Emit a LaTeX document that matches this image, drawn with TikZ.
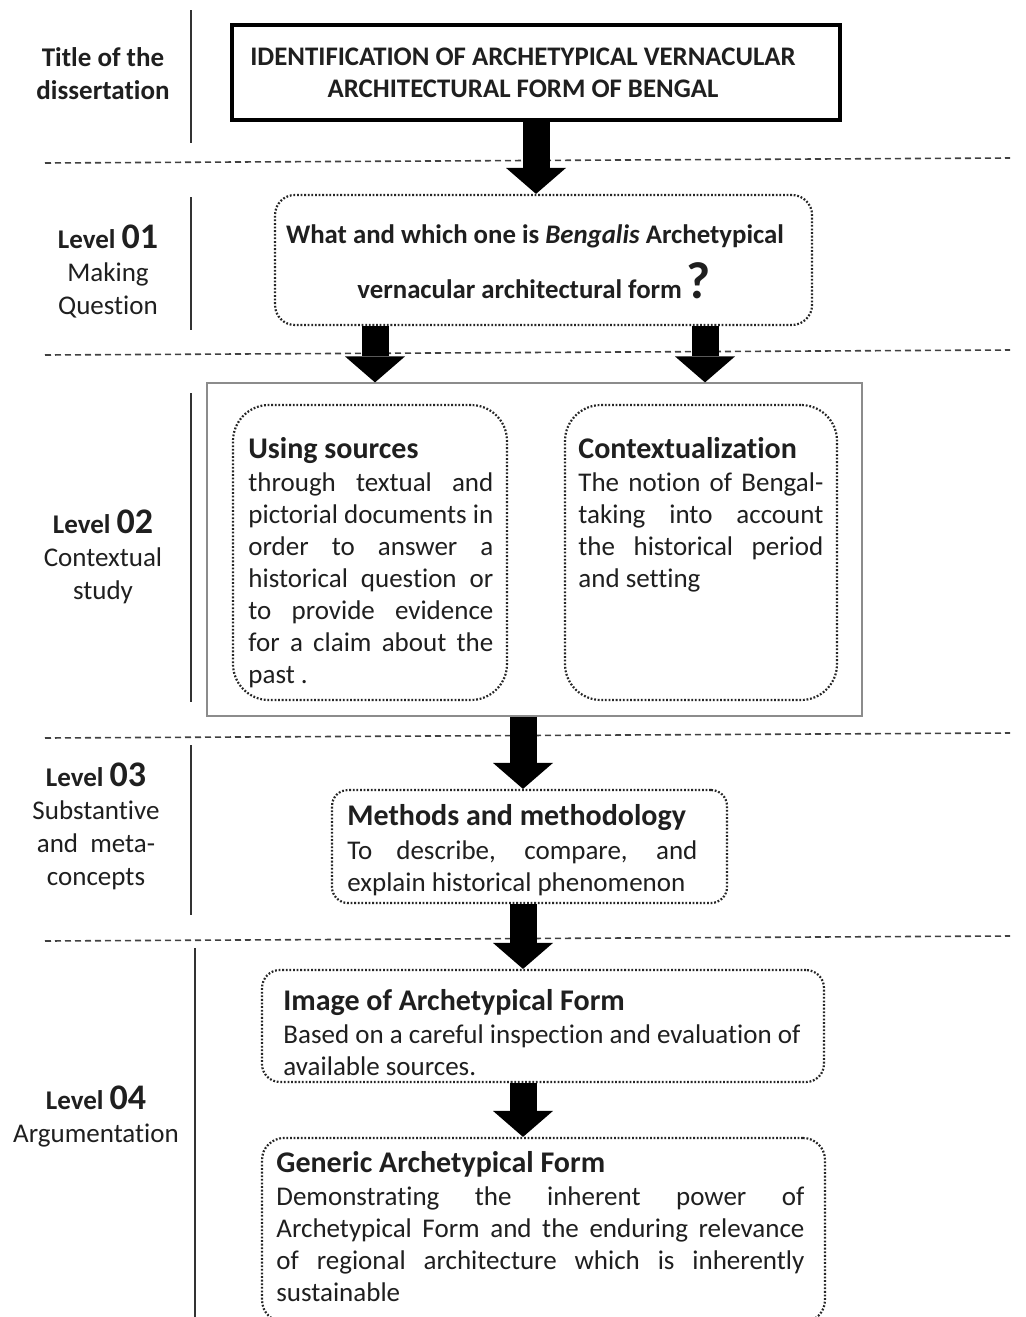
\documentclass[tikz,border=0pt]{standalone}
\usepackage{fontspec}
\setmainfont{Carlito}[Ligatures=NoCommon]
\usetikzlibrary{arrows.meta}
\newcommand\JL[2]{\makebox[#1][s]{#2}}
\newcommand\hd[1]{{\fontsize{15}{16}\selectfont\bfseries #1}}
\newcommand\lv[1]{\textbf{Level} {\fontsize{18}{16}\selectfont\bfseries #1}}
\begin{document}
\begin{tikzpicture}[x=0.5pt,y=-0.5pt,
  every node/.style={text=black!88},
  lbl/.style={align=center, anchor=base, inner sep=0pt, font=\fontsize{13.5}{16.5}\selectfont},
  txt/.style={align=left, anchor=base west, inner sep=0pt, font=\fontsize{13.5}{16}\selectfont},
  dotbox/.style={draw=black!85, line width=1.1pt, dash pattern=on 0.9pt off 0.9pt, inner sep=0pt},
  sepline/.style={draw=black!75, line width=0.8pt, dash pattern=on 3pt off 2pt},
  vline/.style={draw=black!80, line width=0.8pt},
  bigarrow/.style={draw=black, line width=13.5pt, -{Triangle[length=13pt,width=30pt,line width=0pt]}}
]
\fill[white] (0,0) rectangle (1025,1317);
\useasboundingbox (0,0) rectangle (1025,1317);

% separators
\draw[sepline] (45,163) -- (1010,158);
\draw[sepline] (45,355) -- (1010,350);
\draw[sepline] (45,738) -- (1010,733);
\draw[sepline] (45,941) -- (1010,936);
\draw[vline] (191,10) -- (191,143);
\draw[vline] (191,197) -- (191,330);
\draw[vline] (191,393) -- (191,702);
\draw[vline] (191,745) -- (191,915);
\draw[vline] (195,948) -- (195,1317);

% left labels (base = last line baseline)
\node[lbl] (l0) at (103,99) {\textbf{Title of the}\\\textbf{dissertation}};
\node[lbl] (l1) at (108,314) {\lv{01}\\Making\\Question};
\node[lbl] (l2) at (103,599) {\lv{02}\\Contextual\\study};
\node[lbl] (l3) at (96,885) {\lv{03}\\Substantive\\and\ \ meta-\\concepts};
\node[lbl] (l4) at (96,1142) {\lv{04}\\Argumentation};

% title
\node[draw=black, line width=1.6pt, minimum width=304pt, minimum height=47.5pt, inner sep=0pt] (title) at (536,72.5) {};
\node[inner sep=0pt, align=center, font=\bfseries\fontsize{13.4}{16}\selectfont] (titletxt) at (523,73)
  {IDENTIFICATION OF ARCHETYPICAL VERNACULAR\\ARCHITECTURAL FORM OF BENGAL};

% question
\node[dotbox, rounded corners=10pt, minimum width=268.5pt, minimum height=65pt] (q) at (543.5,260) {};
\node[anchor=base, inner sep=0pt, font=\bfseries\fontsize{13.4}{16}\selectfont] (q1) at (535,243)
  {What and which one is \textit{Bengalis} Archetypical};
\node[anchor=base, inner sep=0pt, font=\bfseries\fontsize{13.4}{16}\selectfont] (q2) at (534,298)
  {vernacular architectural form\,{\fontsize{26}{26}\selectfont ?}};

% level 02
\node[draw=black!45, line width=0.6pt, minimum width=327.5pt, minimum height=166.5pt, inner sep=0pt] (outer) at (534.5,549.5) {};
\node[dotbox, rounded corners=18pt, minimum width=137pt, minimum height=147.5pt] (src) at (370,552.5) {};
\node[dotbox, rounded corners=18pt, minimum width=136pt, minimum height=147.5pt] (ctx) at (701,552.5) {};
\node[txt] (srct) at (248,683) {\hd{Using sources}\\[0.5pt]
  \JL{122.5pt}{through textual and}\\
  \JL{122.5pt}{pictorial documents in}\\
  \JL{122.5pt}{order to answer a}\\
  \JL{122.5pt}{historical question or}\\
  \JL{122.5pt}{to provide evidence}\\
  \JL{122.5pt}{for a claim about the}\\
  past .};
\node[txt] (ctxt) at (578,587) {\hd{Contextualization}\\[0.5pt]
  \JL{122.5pt}{The notion of Bengal-}\\
  \JL{122.5pt}{taking into account}\\
  \JL{122.5pt}{the historical period}\\
  and setting};

% level 03
\node[dotbox, rounded corners=8pt, minimum width=197.5pt, minimum height=56.5pt] (meth) at (529.5,846.5) {};
\node[txt] (metht) at (347,891) {\hd{Methods and methodology}\\[1pt]
  \JL{175pt}{To describe, compare, and}\\
  explain historical phenomenon};

% level 04
\node[dotbox, rounded corners=9pt, minimum width=281pt, minimum height=56pt] (img) at (543,1026) {};
\node[txt] (imgt) at (283,1075) {\hd{Image of Archetypical Form}\\[0.5pt]
  Based on a careful inspection and evaluation of\\
  available sources.};
\node[dotbox, rounded corners=11pt, minimum width=281.5pt, minimum height=92pt] (gen) at (543.5,1230) {};
\node[txt] (gent) at (276,1301) {\hd{Generic Archetypical Form}\\[0.5pt]
  \JL{264pt}{Demonstrating the inherent power of}\\
  \JL{264pt}{Archetypical Form and the enduring relevance}\\
  \JL{264pt}{of regional architecture which is inherently}\\
  sustainable};

% arrows
\coordinate (c2) at (375,0);
\coordinate (c3) at (705,0);
\coordinate (c4) at (523,0);
\draw[bigarrow] (title.south) -- (title.south |- q.north);
\draw[bigarrow] (c2 |- q.south) -- (c2 |- outer.north);
\draw[bigarrow] (c3 |- q.south) -- (c3 |- outer.north);
\draw[bigarrow] (c4 |- outer.south) -- (c4 |- meth.north);
\draw[bigarrow] (c4 |- meth.south) -- (c4 |- img.north);
\draw[bigarrow] (c4 |- img.south) -- (c4 |- gen.north);
\end{tikzpicture}
\end{document}
